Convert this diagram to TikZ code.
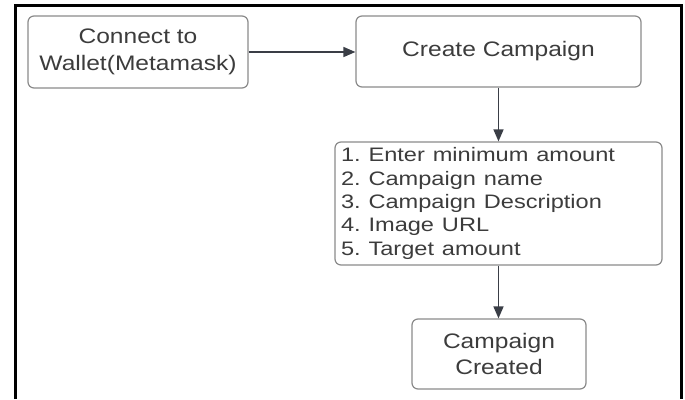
\documentclass[tikz,border=0pt]{standalone}
\usepackage{fontspec}
\setmainfont{Liberation Sans}
\usetikzlibrary{arrows.meta}
\definecolor{boxline}{HTML}{8A8A8A}
\definecolor{txt}{HTML}{3C3C3C}
\definecolor{arrowc}{HTML}{3A3E46}
\newcommand{\hstr}[2]{\scalebox{#1}[1]{#2}}
\begin{document}
\begin{tikzpicture}[x=1pt,y=-1pt,
  boxstyle/.style={draw=boxline, line width=1.2pt, rounded corners=6pt, text=txt, inner sep=0pt},
  titlebox/.style={boxstyle, align=center, font=\fontsize{21}{26.5}\selectfont},
  listbox/.style={boxstyle, align=left, inner xsep=6pt, font=\fontsize{19.5}{23.3}\selectfont},
  flow/.style={draw=arrowc, line width=1.5pt, -{Triangle[length=12pt,width=10pt]}}
]
\useasboundingbox (0,0) rectangle (685,399);
\draw[line width=3pt] (15,399) -- (15,5) -- (681,5) -- (681,399);
\node[titlebox, minimum width=220pt, minimum height=72pt] (b1) at (138,52)
  {\hstr{1.17}{Connect to}\\\hstr{1.17}{Wallet(Metamask)}};
\node[titlebox, minimum width=285pt, minimum height=71pt] (b2) at (498.5,51.5)
  {\hstr{1.17}{Create Campaign}};
\node[listbox, text width=315pt, minimum height=123pt] (b3) at (498.5,203.5)
  {\hstr{1.21}{1.\ Enter minimum amount}\\
   \hstr{1.21}{2.\ Campaign name}\\
   \hstr{1.21}{3.\ Campaign Description}\\
   \hstr{1.21}{4.\ Image URL}\\
   \hstr{1.21}{5.\ Target amount}};
\node[titlebox, minimum width=174pt, minimum height=70pt] (b4) at (499,354)
  {\hstr{1.17}{Campaign}\\\hstr{1.17}{Created}};
\draw[flow] (b1.east) -- (b1.east -| b2.west);
\draw[flow] (b2.south) -- (b3.north);
\draw[flow] (b3.south) -- (b3.south |- b4.north);
\end{tikzpicture}
\end{document}
